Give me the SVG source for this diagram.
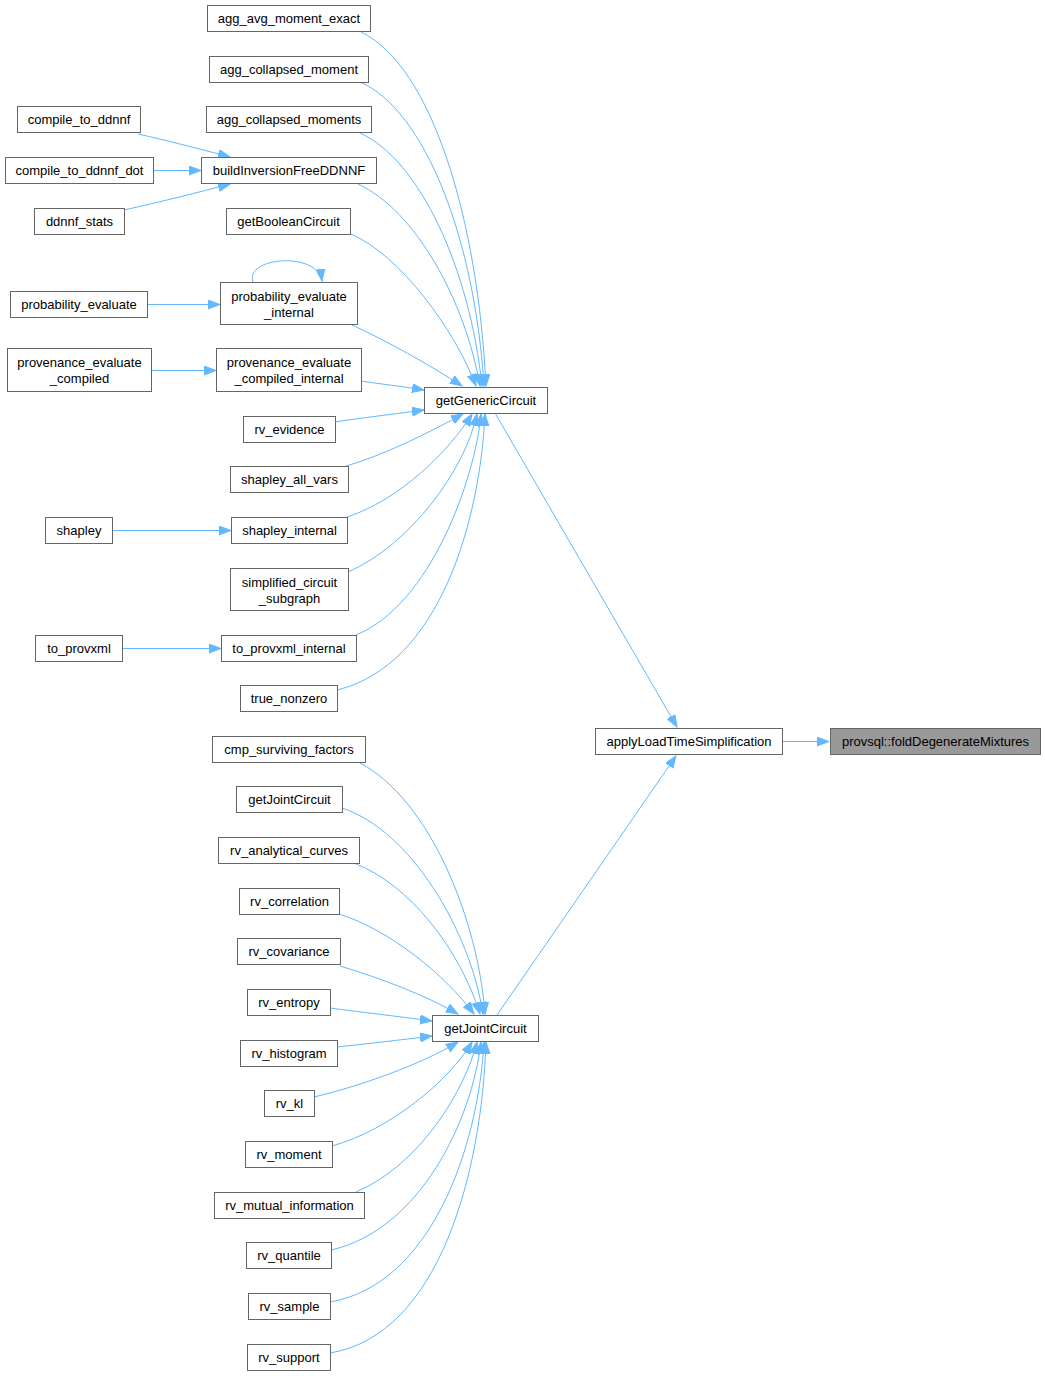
<svg xmlns="http://www.w3.org/2000/svg" width="1045" height="1376" viewBox="0 0 1045 1376">
<defs>
<style>
.n rect{fill:#ffffff;stroke:#666666;stroke-width:1}
.n.hl rect{fill:#999999}
.n text{font-family:"Liberation Sans",Arial,Helvetica,sans-serif;font-size:13px;fill:#000000;text-anchor:middle}
.e path{fill:none;stroke:#63b8ff;stroke-width:1;marker-end:url(#ah)}
</style>
<marker id="ah" markerUnits="userSpaceOnUse" markerWidth="14" markerHeight="11" refX="12" refY="4.5" orient="auto">
<path d="M0,0 L12,4.5 L0,9 z" fill="#63b8ff" stroke="#63b8ff" stroke-width="1"/>
</marker>
</defs>
<rect width="1045" height="1376" fill="#ffffff"/>
<g id="edges" class="e">
<path d="M138,134 C165,140 200,149 230,157"/>
<path d="M154,170.5 L201,170.5"/>
<path d="M124,210 C160,202 200,192 230,184"/>
<path d="M147,304.5 L220,304.5"/>
<path d="M253,282 C244,257 318,251 322,281"/>
<path d="M152,370.5 L216,370.5"/>
<path d="M113,530.5 L231,530.5"/>
<path d="M122,648.5 L221,648.5"/>
<path d="M361,32 C432,66 478,220 486,386"/>
<path d="M360,82 C425,110 475,240 484,386"/>
<path d="M360,133 C420,160 470,270 482,386"/>
<path d="M358,184 C415,210 465,300 480,386"/>
<path d="M351,234 C400,255 455,330 476,386"/>
<path d="M352,325 C385,340 430,365 462,386"/>
<path d="M361,381 C380,384 400,386 424,390"/>
<path d="M335,422 C360,418 395,414 424,410"/>
<path d="M343,467 C385,455 430,432 463,414"/>
<path d="M347,517 C400,500 450,450 472,414"/>
<path d="M348,572 C410,545 465,470 477,414"/>
<path d="M356,635 C430,605 475,480 481,414"/>
<path d="M337,690 C440,665 480,520 485,414"/>
<path d="M495,413 L677,727"/>
<path d="M497,1015 L676,756"/>
<path d="M783,741.5 L829,741.5"/>
<path d="M360,763 C430,800 478,920 485,1014"/>
<path d="M342,808 C410,830 470,930 483,1014"/>
<path d="M356,864 C410,885 460,950 480,1014"/>
<path d="M339,914 C390,930 445,975 474,1014"/>
<path d="M340,966 C380,978 425,995 458,1014"/>
<path d="M330,1008 C360,1012 395,1016 432,1021"/>
<path d="M337,1047 C365,1044 400,1040 432,1036"/>
<path d="M314,1097 C360,1086 420,1065 458,1042"/>
<path d="M332,1146 C390,1130 450,1080 472,1042"/>
<path d="M356,1192 C420,1165 465,1090 477,1042"/>
<path d="M331,1250 C420,1230 472,1120 481,1042"/>
<path d="M330,1302 C430,1285 478,1150 484,1042"/>
<path d="M330,1353 C440,1335 482,1170 486,1042"/>
</g>
<g id="agg_avg_moment_exact" class="n"><rect x="207.5" y="5.5" width="163" height="26"/><text x="289" y="23">agg_avg_moment_exact</text></g>
<g id="agg_collapsed_moment" class="n"><rect x="209.5" y="56.5" width="159" height="26"/><text x="289" y="74">agg_collapsed_moment</text></g>
<g id="agg_collapsed_moments" class="n"><rect x="206.5" y="106.5" width="165" height="26"/><text x="289" y="124">agg_collapsed_moments</text></g>
<g id="compile_to_ddnnf" class="n"><rect x="17.5" y="106.5" width="123" height="26"/><text x="79" y="124">compile_to_ddnnf</text></g>
<g id="compile_to_ddnnf_dot" class="n"><rect x="5.5" y="157.5" width="148" height="26"/><text x="79.5" y="175">compile_to_ddnnf_dot</text></g>
<g id="buildInversionFreeDDNNF" class="n"><rect x="201.5" y="157.5" width="175" height="26"/><text x="289" y="175">buildInversionFreeDDNNF</text></g>
<g id="ddnnf_stats" class="n"><rect x="34.5" y="208.5" width="90" height="26"/><text x="79.5" y="226">ddnnf_stats</text></g>
<g id="getBooleanCircuit" class="n"><rect x="226.5" y="208.5" width="124" height="26"/><text x="288.5" y="226">getBooleanCircuit</text></g>
<g id="probability_evaluate" class="n"><rect x="10.5" y="291.5" width="137" height="26"/><text x="79" y="309">probability_evaluate</text></g>
<g id="probability_evaluate_internal" class="n"><rect x="220.5" y="282.5" width="137" height="42"/><text x="289" y="300.5">probability_evaluate</text><text x="289" y="316.5">_internal</text></g>
<g id="provenance_evaluate_compiled" class="n"><rect x="7.5" y="348.5" width="144" height="43"/><text x="79.5" y="366.5">provenance_evaluate</text><text x="79.5" y="382.5">_compiled</text></g>
<g id="provenance_evaluate_compiled_internal" class="n"><rect x="216.5" y="348.5" width="145" height="43"/><text x="289" y="366.5">provenance_evaluate</text><text x="289" y="382.5">_compiled_internal</text></g>
<g id="getGenericCircuit" class="n"><rect x="424.5" y="387.5" width="123" height="26"/><text x="486" y="405">getGenericCircuit</text></g>
<g id="rv_evidence" class="n"><rect x="243.5" y="416.5" width="92" height="26"/><text x="289.5" y="434">rv_evidence</text></g>
<g id="shapley_all_vars" class="n"><rect x="230.5" y="466.5" width="118" height="26"/><text x="289.5" y="484">shapley_all_vars</text></g>
<g id="shapley" class="n"><rect x="45.5" y="517.5" width="67" height="26"/><text x="79" y="535">shapley</text></g>
<g id="shapley_internal" class="n"><rect x="231.5" y="517.5" width="116" height="26"/><text x="289.5" y="535">shapley_internal</text></g>
<g id="simplified_circuit_subgraph" class="n"><rect x="230.5" y="568.5" width="118" height="42"/><text x="289.5" y="586.5">simplified_circuit</text><text x="289.5" y="602.5">_subgraph</text></g>
<g id="to_provxml" class="n"><rect x="35.5" y="635.5" width="87" height="26"/><text x="79" y="653">to_provxml</text></g>
<g id="to_provxml_internal" class="n"><rect x="221.5" y="635.5" width="135" height="26"/><text x="289" y="653">to_provxml_internal</text></g>
<g id="true_nonzero" class="n"><rect x="240.5" y="685.5" width="97" height="26"/><text x="289" y="703">true_nonzero</text></g>
<g id="applyLoadTimeSimplification" class="n"><rect x="595.5" y="728.5" width="187" height="26"/><text x="689" y="746">applyLoadTimeSimplification</text></g>
<g id="foldDegenerateMixtures" class="n hl"><rect x="830.5" y="728.5" width="210" height="26"/><text x="935.5" y="746">provsql::foldDegenerateMixtures</text></g>
<g id="cmp_surviving_factors" class="n"><rect x="212.5" y="736.5" width="153" height="26"/><text x="289" y="754">cmp_surviving_factors</text></g>
<g id="getJointCircuit_caller" class="n"><rect x="236.5" y="786.5" width="106" height="26"/><text x="289.5" y="804">getJointCircuit</text></g>
<g id="rv_analytical_curves" class="n"><rect x="218.5" y="837.5" width="141" height="26"/><text x="289" y="855">rv_analytical_curves</text></g>
<g id="rv_correlation" class="n"><rect x="239.5" y="888.5" width="100" height="26"/><text x="289.5" y="906">rv_correlation</text></g>
<g id="rv_covariance" class="n"><rect x="237.5" y="938.5" width="103" height="26"/><text x="289" y="956">rv_covariance</text></g>
<g id="rv_entropy" class="n"><rect x="247.5" y="989.5" width="83" height="26"/><text x="289" y="1007">rv_entropy</text></g>
<g id="getJointCircuit" class="n"><rect x="432.5" y="1015.5" width="106" height="26"/><text x="485.5" y="1033">getJointCircuit</text></g>
<g id="rv_histogram" class="n"><rect x="240.5" y="1040.5" width="97" height="26"/><text x="289" y="1058">rv_histogram</text></g>
<g id="rv_kl" class="n"><rect x="264.5" y="1090.5" width="50" height="26"/><text x="289.5" y="1108">rv_kl</text></g>
<g id="rv_moment" class="n"><rect x="245.5" y="1141.5" width="87" height="26"/><text x="289" y="1159">rv_moment</text></g>
<g id="rv_mutual_information" class="n"><rect x="214.5" y="1192.5" width="150" height="26"/><text x="289.5" y="1210">rv_mutual_information</text></g>
<g id="rv_quantile" class="n"><rect x="246.5" y="1242.5" width="85" height="26"/><text x="289" y="1260">rv_quantile</text></g>
<g id="rv_sample" class="n"><rect x="248.5" y="1293.5" width="82" height="26"/><text x="289.5" y="1311">rv_sample</text></g>
<g id="rv_support" class="n"><rect x="247.5" y="1344.5" width="83" height="26"/><text x="289" y="1362">rv_support</text></g>
</svg>
